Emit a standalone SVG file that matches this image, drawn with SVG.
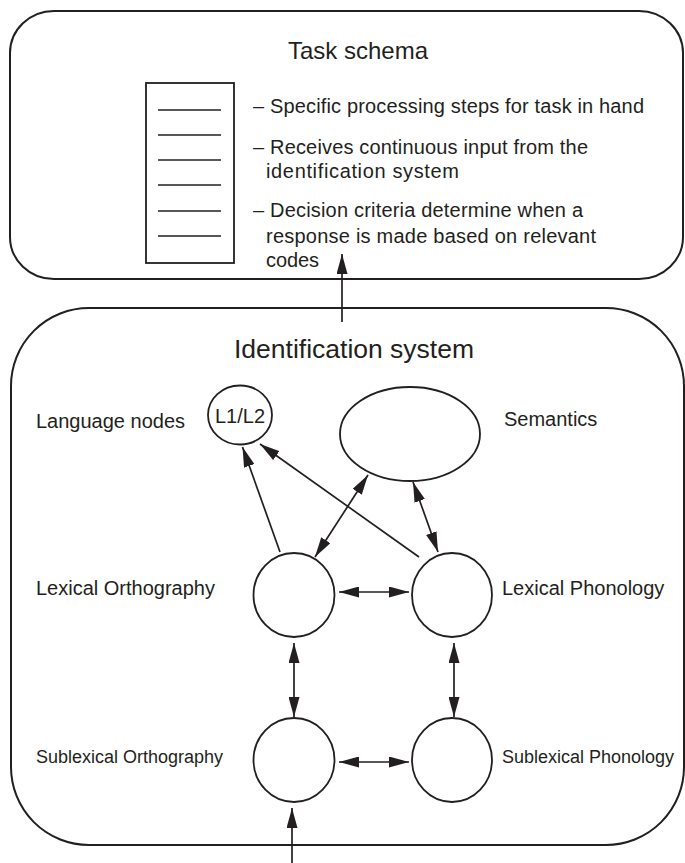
<svg xmlns="http://www.w3.org/2000/svg" width="685" height="863" viewBox="0 0 685 863">
<style>
.box{fill:none;stroke:#231f20;stroke-width:2}
.node{fill:#fff;stroke:#231f20;stroke-width:1.8}
.ln{stroke:#231f20;stroke-width:1.7;fill:none}
.t{font-family:"Liberation Sans",Arial,sans-serif;fill:#231f20;font-size:20px}
.s{font-size:18px}
.h{font-size:24px}
.mid{text-anchor:middle}
</style>
<defs>
<marker id="ah" markerUnits="userSpaceOnUse" markerWidth="20" markerHeight="11" refX="20" refY="5.5" orient="auto-start-reverse">
<path d="M0,0 L20,5.5 L0,11 z" fill="#231f20"/>
</marker>
</defs>

<g id="task-schema">
<rect class="box" x="10" y="11" width="673" height="268" rx="44" ry="42"/>
<text class="t h mid" x="358" y="59">Task schema</text>
<rect class="box" x="146" y="83" width="88" height="180" style="stroke-width:1.8"/>
<g class="ln">
<line x1="158" y1="110" x2="221" y2="110"/>
<line x1="158" y1="135" x2="221" y2="135"/>
<line x1="158" y1="160" x2="221" y2="160"/>
<line x1="158" y1="185" x2="221" y2="185"/>
<line x1="158" y1="211" x2="221" y2="211"/>
<line x1="158" y1="236" x2="221" y2="236"/>
</g>
<text class="t" x="253" y="113" textLength="391">– Specific processing steps for task in hand</text>
<text class="t" x="253" y="154" textLength="335">– Receives continuous input from the</text>
<text class="t" x="266" y="178" textLength="193">identification system</text>
<text class="t" x="253" y="217" textLength="330">– Decision criteria determine when a</text>
<text class="t" x="266" y="243" textLength="330">response is made based on relevant</text>
<text class="t" x="266" y="267" textLength="53">codes</text>
</g>

<g id="identification-system">
<rect class="box" x="11" y="308" width="673" height="537" rx="78" ry="78"/>
<text class="t h mid" x="354" y="358" style="font-size:26.5px">Identification system</text>
</g>

<g id="language-nodes">
<ellipse class="node" cx="240" cy="415" rx="32" ry="29.5"/>
<text class="t mid" x="240" y="423">L1/L2</text>
<text class="t" x="36" y="428">Language nodes</text>
</g>

<g id="semantics">
<ellipse class="node" cx="410" cy="434" rx="70" ry="47"/>
<text class="t" x="504" y="426">Semantics</text>
</g>

<g id="lexical-orthography">
<ellipse class="node" cx="294" cy="595" rx="40.5" ry="42"/>
<text class="t" x="36" y="595">Lexical Orthography</text>
</g>

<g id="lexical-phonology">
<ellipse class="node" cx="452" cy="595" rx="40" ry="42"/>
<text class="t" x="502" y="595">Lexical Phonology</text>
</g>

<g id="sublexical-orthography">
<ellipse class="node" cx="294" cy="760" rx="40.5" ry="42"/>
<text class="t s" x="36" y="763">Sublexical Orthography</text>
</g>

<g id="sublexical-phonology">
<ellipse class="node" cx="452" cy="760" rx="40" ry="42"/>
<text class="t s" x="502" y="763">Sublexical Phonology</text>
</g>

<g id="connectors" class="ln">
<line x1="342" y1="322" x2="342" y2="254" marker-end="url(#ah)"/>
<line x1="292" y1="863" x2="292" y2="808" marker-end="url(#ah)"/>
<line x1="339" y1="592" x2="409" y2="592" marker-start="url(#ah)" marker-end="url(#ah)"/>
<line x1="339" y1="762" x2="409" y2="762" marker-start="url(#ah)" marker-end="url(#ah)"/>
<line x1="294" y1="643" x2="294" y2="717" marker-start="url(#ah)" marker-end="url(#ah)"/>
<line x1="454" y1="643" x2="454" y2="717" marker-start="url(#ah)" marker-end="url(#ah)"/>
<line x1="280" y1="552" x2="242.5" y2="447" marker-end="url(#ah)"/>
<line x1="419" y1="557" x2="260" y2="444" marker-end="url(#ah)"/>
<line x1="368" y1="475" x2="315" y2="557" marker-start="url(#ah)" marker-end="url(#ah)"/>
<line x1="413" y1="482" x2="438" y2="552" marker-start="url(#ah)" marker-end="url(#ah)"/>
</g>
</svg>
